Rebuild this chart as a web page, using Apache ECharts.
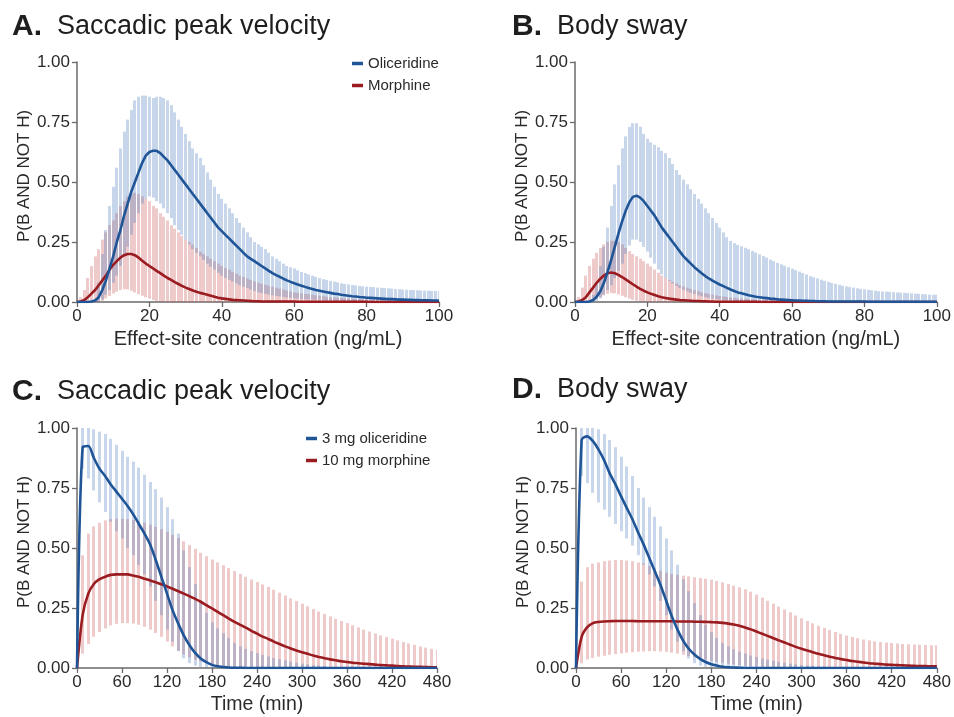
<!DOCTYPE html>
<html>
<head>
<meta charset="utf-8">
<script src="https://cdn.jsdelivr.net/npm/echarts@6/dist/echarts.min.js"></script>
<style>html,body{margin:0;padding:0;background:#fff}#c{width:954px;height:717px}</style>
</head>
<body>
<div id="c"></div>
<script>
// ---------- sampling grids ----------
const xConc = Array.from({length: 101}, (_, i) => i);          // 0..100 ng/mL, step 1
const xTime = Array.from({length: 65}, (_, i) => i * 7.5);     // 0..480 min, step 7.5

const concTicks = [0, 20, 40, 60, 80, 100];
const timeTicks = [0, 60, 120, 180, 240, 300, 360, 420, 480];
const yTicks = [0, 0.25, 0.5, 0.75, 1];

// ---------- Panel A: Saccadic peak velocity vs concentration ----------
const A_oli_med = [0,0,0,0,0.002,0.006,0.02,0.05,0.09,0.14,
0.19,0.25,0.30,0.36,0.41,0.46,0.50,0.54,0.58,0.61,
0.625,0.63,0.63,0.62,0.605,0.59,0.57,0.55,0.53,0.51,
0.49,0.47,0.45,0.43,0.41,0.39,0.37,0.35,0.33,0.31,
0.295,0.28,0.265,0.25,0.235,0.22,0.205,0.19,0.18,0.17,
0.16,0.15,0.14,0.13,0.12,0.112,0.105,0.097,0.09,0.084,
0.078,0.073,0.068,0.063,0.058,0.054,0.05,0.047,0.044,0.041,
0.038,0.035,0.033,0.03,0.028,0.026,0.024,0.023,0.021,0.02,
0.018,0.017,0.016,0.015,0.014,0.013,0.012,0.012,0.011,0.01,
0.01,0.009,0.009,0.008,0.008,0.007,0.007,0.007,0.006,0.006,
0.006];
const A_oli_lo = [0,0,0,0,0,0,0,0.01,0.03,0.05,
0.08,0.11,0.15,0.19,0.23,0.28,0.33,0.37,0.41,0.43,
0.44,0.435,0.42,0.41,0.39,0.37,0.35,0.32,0.30,0.28,
0.26,0.24,0.22,0.205,0.19,0.175,0.16,0.147,0.135,0.122,
0.11,0.10,0.092,0.085,0.078,0.07,0.064,0.058,0.052,0.046,
0.04,0.037,0.034,0.031,0.028,0.025,0.023,0.021,0.019,0.017,
0.015,0.014,0.013,0.012,0.011,0.01,0.009,0.008,0.007,0.006,
0.005,0.005,0.004,0.004,0.003,0.003,0.002,0.002,0.002,0.001,
0.001,0,0,0,0,0,0,0,0,0,
0,0,0,0,0,0,0,0,0,0,
0];
const A_oli_hi = [0,0,0,0,0,0.01,0.08,0.2,0.3,0.4,
0.48,0.56,0.64,0.71,0.76,0.8,0.84,0.855,0.86,0.86,
0.855,0.85,0.855,0.855,0.85,0.84,0.82,0.79,0.76,0.73,
0.70,0.67,0.64,0.62,0.60,0.57,0.54,0.51,0.48,0.45,
0.43,0.41,0.39,0.37,0.35,0.33,0.31,0.29,0.27,0.25,
0.24,0.23,0.22,0.205,0.19,0.18,0.17,0.16,0.15,0.145,
0.14,0.132,0.125,0.12,0.115,0.11,0.105,0.1,0.095,0.092,
0.088,0.085,0.082,0.078,0.075,0.073,0.071,0.069,0.067,0.065,
0.064,0.063,0.062,0.06,0.059,0.058,0.057,0.056,0.054,0.053,
0.052,0.051,0.05,0.05,0.049,0.048,0.047,0.047,0.046,0.046,
0.045];
const A_mor_med = [0,0.002,0.008,0.02,0.035,0.05,0.07,0.09,0.11,0.135,
0.155,0.17,0.185,0.195,0.2,0.2,0.195,0.185,0.172,0.16,
0.15,0.14,0.13,0.12,0.11,0.1,0.092,0.083,0.075,0.067,
0.06,0.054,0.048,0.043,0.038,0.034,0.03,0.026,0.022,0.018,
0.015,0.013,0.011,0.009,0.008,0.007,0.006,0.005,0.004,0.003,
0.003,0.002,0.002,0.002,0.002,0.002,0.002,0.002,0.002,0.002,
0.002,0.001,0.001,0.001,0.001,0.001,0.001,0.001,0.001,0.001,
0.001,0.001,0.001,0.001,0.001,0.001,0.001,0.001,0.001,0.001,
0.001,0,0,0,0,0,0,0,0,0,
0,0,0,0,0,0,0,0,0,0,
0];
const A_mor_lo = [0,0,0,0,0,0,0,0.005,0.015,0.025,
0.035,0.043,0.05,0.053,0.052,0.047,0.04,0.033,0.026,0.02,
0.014,0.008,0.004,0.001,0,0,0,0,0,0,
0,0,0,0,0,0,0,0,0,0,
0,0,0,0,0,0,0,0,0,0,
0,0,0,0,0,0,0,0,0,0,
0,0,0,0,0,0,0,0,0,0,
0,0,0,0,0,0,0,0,0,0,
0,0,0,0,0,0,0,0,0,0,
0,0,0,0,0,0,0,0,0,0,
0];
const A_mor_hi = [0,0.02,0.05,0.1,0.15,0.19,0.22,0.26,0.29,0.32,
0.34,0.37,0.4,0.42,0.44,0.45,0.455,0.45,0.44,0.43,
0.42,0.40,0.39,0.37,0.355,0.34,0.32,0.305,0.29,0.275,
0.26,0.25,0.24,0.225,0.21,0.2,0.19,0.18,0.17,0.16,
0.15,0.142,0.134,0.126,0.118,0.11,0.104,0.098,0.092,0.086,
0.08,0.076,0.072,0.068,0.064,0.06,0.056,0.052,0.048,0.044,
0.04,0.038,0.036,0.034,0.032,0.03,0.028,0.026,0.024,0.022,
0.02,0.019,0.018,0.017,0.016,0.015,0.014,0.013,0.012,0.011,
0.01,0.009,0.009,0.008,0.008,0.007,0.007,0.006,0.006,0.005,
0.005,0.005,0.004,0.004,0.004,0.003,0.003,0.003,0.002,0.002,
0.002];

// ---------- Panel B: Body sway vs concentration ----------
const B_oli_med = [0,0,0,0,0.002,0.008,0.022,0.045,0.08,0.125,
0.175,0.23,0.285,0.335,0.38,0.415,0.438,0.443,0.435,0.42,
0.4,0.38,0.36,0.335,0.31,0.29,0.27,0.25,0.23,0.21,
0.19,0.175,0.16,0.145,0.132,0.12,0.108,0.098,0.089,0.081,
0.073,0.066,0.059,0.052,0.046,0.04,0.036,0.032,0.028,0.025,
0.022,0.02,0.018,0.016,0.014,0.013,0.011,0.01,0.009,0.008,
0.007,0.006,0.006,0.005,0.005,0.004,0.004,0.003,0.003,0.003,
0.002,0.002,0.002,0.002,0.002,0.002,0.002,0.002,0.002,0.002,
0.002,0.001,0.001,0.001,0.001,0.001,0.001,0.001,0.001,0.001,
0.001,0.001,0.001,0.001,0.001,0.001,0.001,0.001,0.001,0.001,
0.001];
const B_oli_lo = [0,0,0,0,0,0,0.005,0.015,0.03,0.05,
0.07,0.1,0.13,0.16,0.2,0.235,0.26,0.26,0.25,0.23,
0.21,0.185,0.16,0.135,0.115,0.1,0.088,0.077,0.067,0.058,
0.05,0.044,0.038,0.033,0.028,0.024,0.02,0.017,0.014,0.012,
0.01,0.008,0.007,0.006,0.005,0.004,0.003,0.003,0.002,0.002,
0.001,0,0,0,0,0,0,0,0,0,
0,0,0,0,0,0,0,0,0,0,
0,0,0,0,0,0,0,0,0,0,
0,0,0,0,0,0,0,0,0,0,
0,0,0,0,0,0,0,0,0,0,
0];
const B_oli_hi = [0,0,0,0,0,0.03,0.08,0.15,0.23,0.31,
0.4,0.49,0.57,0.64,0.69,0.73,0.745,0.745,0.73,0.70,
0.68,0.665,0.655,0.645,0.63,0.62,0.6,0.575,0.55,0.53,
0.51,0.49,0.47,0.45,0.43,0.41,0.39,0.37,0.35,0.33,
0.31,0.29,0.27,0.255,0.245,0.238,0.232,0.226,0.22,0.213,
0.206,0.199,0.192,0.185,0.177,0.17,0.163,0.157,0.151,0.145,
0.139,0.133,0.127,0.121,0.115,0.108,0.103,0.098,0.093,0.088,
0.084,0.08,0.076,0.072,0.068,0.065,0.062,0.06,0.057,0.055,
0.053,0.051,0.049,0.047,0.045,0.044,0.043,0.042,0.041,0.04,
0.039,0.038,0.037,0.036,0.035,0.034,0.033,0.032,0.031,0.03,
0.03];
const B_mor_med = [0,0.002,0.008,0.02,0.04,0.06,0.08,0.097,0.11,0.12,
0.123,0.12,0.113,0.104,0.094,0.084,0.074,0.064,0.055,0.047,
0.04,0.034,0.029,0.024,0.02,0.017,0.014,0.012,0.01,0.008,
0.007,0.006,0.005,0.004,0.004,0.003,0.003,0.002,0.002,0.001,
0.001,0.001,0.001,0.001,0.001,0.001,0.001,0.001,0.001,0.001,
0.001,0,0,0,0,0,0,0,0,0,
0,0,0,0,0,0,0,0,0,0,
0,0,0,0,0,0,0,0,0,0,
0,0,0,0,0,0,0,0,0,0,
0,0,0,0,0,0,0,0,0,0,
0];
const B_mor_lo = [0,0,0,0,0,0.005,0.012,0.02,0.028,0.034,
0.037,0.036,0.032,0.026,0.02,0.014,0.009,0.005,0.002,0,
0,0,0,0,0,0,0,0,0,0,
0,0,0,0,0,0,0,0,0,0,
0,0,0,0,0,0,0,0,0,0,
0,0,0,0,0,0,0,0,0,0,
0,0,0,0,0,0,0,0,0,0,
0,0,0,0,0,0,0,0,0,0,
0,0,0,0,0,0,0,0,0,0,
0,0,0,0,0,0,0,0,0,0,
0];
const B_mor_hi = [0,0.02,0.06,0.11,0.15,0.18,0.205,0.225,0.24,0.25,
0.255,0.255,0.25,0.24,0.225,0.212,0.2,0.19,0.18,0.17,
0.16,0.148,0.135,0.122,0.11,0.1,0.092,0.084,0.077,0.071,
0.065,0.06,0.055,0.05,0.045,0.04,0.037,0.034,0.031,0.028,
0.025,0.023,0.021,0.019,0.017,0.015,0.014,0.013,0.012,0.011,
0.01,0.0095,0.009,0.0085,0.008,0.0075,0.007,0.0065,0.006,0.0055,
0.005,0.005,0.0045,0.0045,0.004,0.004,0.0035,0.0035,0.003,0.003,
0.0025,0.0025,0.0025,0.0025,0.0025,0.002,0.002,0.002,0.002,0.002,
0.002,0.002,0.002,0.002,0.002,0.0015,0.0015,0.0015,0.0015,0.0015,
0.001,0.001,0.001,0.001,0.001,0.001,0.001,0.001,0.001,0.001,
0.001];

// ---------- Panel C: Saccadic peak velocity vs time ----------
const C_oli_med = [0,0.92,0.925,0.875,0.83,0.8,0.765,0.735,0.705,0.675,
0.64,0.6,0.56,0.515,0.45,0.38,0.31,0.24,0.185,0.135,
0.095,0.063,0.04,0.024,0.013,0.007,0.004,0.002,0.001,0.001,
0,0,0,0,0,0,0,0,0,0,
0,0,0,0,0,0,0,0,0,0,
0,0,0,0,0,0,0,0,0,0,
0,0,0,0,0];
const C_oli_lo = [0,0.83,0.79,0.74,0.69,0.65,0.61,0.57,0.54,0.5,
0.47,0.43,0.39,0.34,0.28,0.22,0.16,0.11,0.07,0.04,
0.02,0.01,0.005,0,0,0,0,0,0,0,
0,0,0,0,0,0,0,0,0,0,
0,0,0,0,0,0,0,0,0,0,
0,0,0,0,0,0,0,0,0,0,
0,0,0,0,0];
const C_oli_hi = [0,1.0,1.0,0.995,0.985,0.975,0.955,0.93,0.905,0.88,
0.86,0.835,0.805,0.775,0.745,0.71,0.67,0.62,0.56,0.49,
0.42,0.35,0.28,0.23,0.19,0.165,0.145,0.125,0.105,0.09,
0.08,0.07,0.062,0.055,0.048,0.042,0.037,0.032,0.027,0.022,
0.018,0.015,0.012,0.01,0.008,0,0,0,0,0,
0,0,0,0,0,0,0,0,0,0,
0,0,0,0,0];
const C_mor_med = [0,0.22,0.31,0.35,0.37,0.38,0.388,0.39,0.39,0.39,
0.385,0.38,0.372,0.365,0.357,0.349,0.34,0.33,0.32,0.31,
0.299,0.288,0.276,0.262,0.248,0.234,0.22,0.206,0.192,0.18,
0.168,0.155,0.143,0.131,0.121,0.11,0.1,0.09,0.081,0.073,
0.066,0.059,0.052,0.046,0.041,0.036,0.032,0.028,0.025,0.022,
0.02,0.018,0.016,0.014,0.012,0.011,0.01,0.008,0.007,0.006,
0.005,0.005,0.004,0.003,0.003];
const C_mor_lo = [0,0.06,0.1,0.13,0.15,0.165,0.177,0.184,0.187,0.187,
0.185,0.18,0.172,0.16,0.146,0.13,0.11,0.09,0.072,0.057,
0.045,0.035,0.027,0.02,0.015,0.011,0.008,0.006,0.004,0.003,
0.002,0.001,0,0,0,0,0,0,0,0,
0,0,0,0,0,0,0,0,0,0,
0,0,0,0,0,0,0,0,0,0,
0,0,0,0,0];
const C_mor_hi = [0,0.47,0.56,0.59,0.605,0.615,0.62,0.622,0.622,0.62,
0.617,0.612,0.605,0.597,0.588,0.578,0.567,0.555,0.542,0.528,
0.513,0.497,0.48,0.466,0.452,0.44,0.428,0.416,0.404,0.392,
0.38,0.369,0.358,0.348,0.338,0.326,0.314,0.302,0.29,0.279,
0.268,0.257,0.246,0.235,0.225,0.215,0.205,0.196,0.187,0.178,
0.169,0.16,0.152,0.144,0.136,0.129,0.122,0.115,0.108,0.102,
0.096,0.09,0.085,0.08,0.076];

// ---------- Panel D: Body sway vs time ----------
const D_oli_med = [0,0.95,0.965,0.945,0.91,0.865,0.81,0.765,0.715,0.667,
0.62,0.566,0.514,0.458,0.402,0.345,0.28,0.215,0.16,0.114,
0.08,0.056,0.038,0.025,0.016,0.01,0.005,0.003,0.002,0.001,
0,0,0,0,0,0,0,0,0,0,
0,0,0,0,0,0,0,0,0,0,
0,0,0,0,0,0,0,0,0,0,
0,0,0,0,0];
const D_oli_lo = [0,0.8,0.77,0.73,0.69,0.66,0.63,0.6,0.57,0.54,
0.51,0.47,0.43,0.39,0.34,0.28,0.22,0.16,0.11,0.07,
0.04,0.02,0.01,0.005,0,0,0,0,0,0,
0,0,0,0,0,0,0,0,0,0,
0,0,0,0,0,0,0,0,0,0,
0,0,0,0,0,0,0,0,0,0,
0,0,0,0,0];
const D_oli_hi = [0,1.0,1.0,1.0,0.995,0.975,0.95,0.92,0.88,0.84,
0.8,0.75,0.71,0.67,0.63,0.59,0.54,0.49,0.43,0.37,
0.32,0.27,0.22,0.18,0.15,0.125,0.105,0.09,0.078,0.068,
0.06,0.052,0.046,0.04,0.035,0.03,0.026,0.022,0.018,0.015,
0.012,0.01,0.008,0.006,0.005,0,0,0,0,0,
0,0,0,0,0,0,0,0,0,0,
0,0,0,0,0];
const D_mor_med = [0,0.13,0.17,0.187,0.192,0.194,0.195,0.196,0.196,0.196,
0.196,0.195,0.195,0.195,0.195,0.195,0.195,0.195,0.194,0.194,
0.194,0.193,0.193,0.192,0.191,0.19,0.188,0.185,0.181,0.176,
0.169,0.161,0.152,0.143,0.134,0.124,0.115,0.106,0.097,0.088,
0.08,0.073,0.066,0.059,0.053,0.047,0.042,0.037,0.033,0.029,
0.026,0.023,0.02,0.018,0.016,0.014,0.013,0.012,0.011,0.01,
0.009,0.008,0.008,0.007,0.007];
const D_mor_lo = [0,0.02,0.035,0.042,0.047,0.051,0.055,0.058,0.061,0.064,
0.066,0.068,0.069,0.07,0.07,0.069,0.067,0.064,0.06,0.055,
0.05,0.045,0.04,0.035,0.03,0.026,0.022,0.018,0.015,0.012,
0.01,0.008,0.006,0.005,0.004,0.003,0.002,0.002,0.001,0,
0,0,0,0,0,0,0,0,0,0,
0,0,0,0,0,0,0,0,0,0,
0,0,0,0,0];
const D_mor_hi = [0,0.36,0.42,0.435,0.44,0.445,0.448,0.45,0.45,0.448,
0.445,0.44,0.435,0.425,0.415,0.405,0.397,0.392,0.388,0.385,
0.382,0.378,0.375,0.372,0.368,0.363,0.357,0.35,0.343,0.336,
0.328,0.318,0.306,0.293,0.28,0.268,0.256,0.244,0.232,0.219,
0.207,0.196,0.186,0.176,0.167,0.158,0.15,0.142,0.135,0.129,
0.124,0.119,0.115,0.111,0.108,0.106,0.104,0.102,0.1,0.099,
0.098,0.097,0.096,0.095,0.095];

// ---------- styling ----------
const FONT = 'Liberation Sans, Arial, Helvetica, sans-serif';
const BLUE = '#1f5597';
const RED = '#9a1b20';
const BLUE_BAR = 'rgba(70,120,185,0.30)';
const RED_BAR = 'rgba(205,90,90,0.32)';
const AXIS = '#6a6a6a';
const TXT = '#2a2a2a';

function band(xs, lo, hi) { return xs.map((x, i) => [x, lo[i], hi[i]]); }
function pts(xs, ys) { return xs.map((x, i) => [x, ys[i]]); }

function barRenderer(w, fill) {
  return function (params, api) {
    const x = api.value(0), lo = api.value(1), hi = api.value(2);
    if (!(hi > lo)) return null;
    const top = api.coord([x, hi]);
    const bot = api.coord([x, lo]);
    return {
      type: 'rect',
      shape: { x: Math.round(top[0] - w / 2), y: top[1], width: w, height: bot[1] - top[1] },
      style: { fill: fill }
    };
  };
}

const grids = [
  { left: 77, top: 62, width: 362, height: 240 },
  { left: 575, top: 62, width: 362, height: 240 },
  { left: 77, top: 428, width: 360, height: 240 },
  { left: 576, top: 428, width: 361, height: 240 }
];

function xAxisFor(i) {
  const conc = i < 2;
  return {
    gridIndex: i, type: 'value', min: 0, max: conc ? 100 : 480, interval: conc ? 20 : 60,
    name: conc ? 'Effect-site concentration (ng/mL)' : 'Time (min)',
    nameLocation: 'middle', nameGap: 27,
    nameTextStyle: { fontFamily: FONT, fontSize: conc ? 20 : 19.5, color: TXT },
    axisLine: { show: true, onZero: false, lineStyle: { color: AXIS, width: 1.5 } },
    axisTick: { show: true, length: 5, lineStyle: { color: AXIS, width: 1.3 } },
    axisLabel: { fontFamily: FONT, fontSize: 17, color: TXT, margin: 6 },
    splitLine: { show: false }
  };
}
function yAxisFor(i) {
  return {
    gridIndex: i, type: 'value', min: 0, max: 1, interval: 0.25,
    name: 'P(B AND NOT H)', nameLocation: 'middle', nameGap: 44, nameRotate: 90,
    nameTextStyle: { fontFamily: FONT, fontSize: 17, color: TXT, padding: [0, 0, 0, 12] },
    axisLine: { show: true, lineStyle: { color: AXIS, width: 1.5 } },
    axisTick: { show: true, length: 5, lineStyle: { color: AXIS, width: 1.3 } },
    axisLabel: { fontFamily: FONT, fontSize: 17, color: TXT, margin: 7,
      formatter: v => v.toFixed(2) },
    splitLine: { show: false }
  };
}

const panels = [
  { xs: xConc, w: 3, names: ['Oliceridine', 'Morphine'],
    om: A_oli_med, ol: A_oli_lo, oh: A_oli_hi, mm: A_mor_med, ml: A_mor_lo, mh: A_mor_hi },
  { xs: xConc, w: 3, names: ['Oliceridine', 'Morphine'],
    om: B_oli_med, ol: B_oli_lo, oh: B_oli_hi, mm: B_mor_med, ml: B_mor_lo, mh: B_mor_hi },
  { xs: xTime, w: 3, names: ['3 mg oliceridine', '10 mg morphine'],
    om: C_oli_med, ol: C_oli_lo, oh: C_oli_hi, mm: C_mor_med, ml: C_mor_lo, mh: C_mor_hi },
  { xs: xTime, w: 3, names: ['3 mg oliceridine', '10 mg morphine'],
    om: D_oli_med, ol: D_oli_lo, oh: D_oli_hi, mm: D_mor_med, ml: D_mor_lo, mh: D_mor_hi }
];

const series = [];
panels.forEach((p, i) => {
  series.push({
    type: 'custom', name: p.names[1] + ' interval', xAxisIndex: i, yAxisIndex: i, clip: true, z: 1,
    renderItem: barRenderer(p.w, RED_BAR), encode: { x: 0, y: [1, 2] },
    data: band(p.xs, p.ml, p.mh), silent: true
  });
  series.push({
    type: 'custom', name: p.names[0] + ' interval', xAxisIndex: i, yAxisIndex: i, clip: true, z: 2,
    renderItem: barRenderer(p.w, BLUE_BAR), encode: { x: 0, y: [1, 2] },
    data: band(p.xs, p.ol, p.oh), silent: true
  });
  series.push({
    type: 'line', name: p.names[1], xAxisIndex: i, yAxisIndex: i, z: 3,
    showSymbol: false, symbol: 'none', smooth: i >= 2 ? 0.3 : false,
    lineStyle: { color: RED, width: 2.6 }, itemStyle: { color: RED },
    data: pts(p.xs, p.mm)
  });
  series.push({
    type: 'line', name: p.names[0], xAxisIndex: i, yAxisIndex: i, z: 4,
    showSymbol: false, symbol: 'none', smooth: i >= 2 ? 0.3 : false,
    lineStyle: { color: BLUE, width: 2.6 }, itemStyle: { color: BLUE },
    data: pts(p.xs, p.om)
  });
});

function legendAt(left, top, names) {
  return {
    left: left, top: top, orient: 'vertical', itemGap: 7, itemWidth: 11, itemHeight: 3.5,
    icon: 'rect', data: names, selectedMode: false,
    textStyle: { fontFamily: FONT, fontSize: 15, color: TXT, lineHeight: 15 }
  };
}

function titleText(x, y, letter, label) {
  return [
    { type: 'text', x: x, y: y, style: { text: letter, font: 'bold 30px ' + FONT, fill: '#1e1e1e', align: 'left', verticalAlign: 'middle' } },
    { type: 'text', x: x + 45, y: y, style: { text: label, font: '27px ' + FONT, fill: '#1e1e1e', align: 'left', verticalAlign: 'middle' } }
  ];
}

const option = {
  animation: false,
  backgroundColor: '#ffffff',
  grid: grids,
  xAxis: [0, 1, 2, 3].map(xAxisFor),
  yAxis: [0, 1, 2, 3].map(yAxisFor),
  legend: [legendAt(347, 51, ['Oliceridine', 'Morphine']), legendAt(301, 426, ['3 mg oliceridine', '10 mg morphine'])],
  series: series,
  graphic: [].concat(
    titleText(12, 27, 'A.', 'Saccadic peak velocity'),
    titleText(512, 27, 'B.', 'Body sway'),
    titleText(12, 392, 'C.', 'Saccadic peak velocity'),
    titleText(512, 390, 'D.', 'Body sway')
  )
};

const chart = echarts.init(document.getElementById('c'), null, { renderer: 'canvas' });
chart.setOption(option);
</script>
</body>
</html>
